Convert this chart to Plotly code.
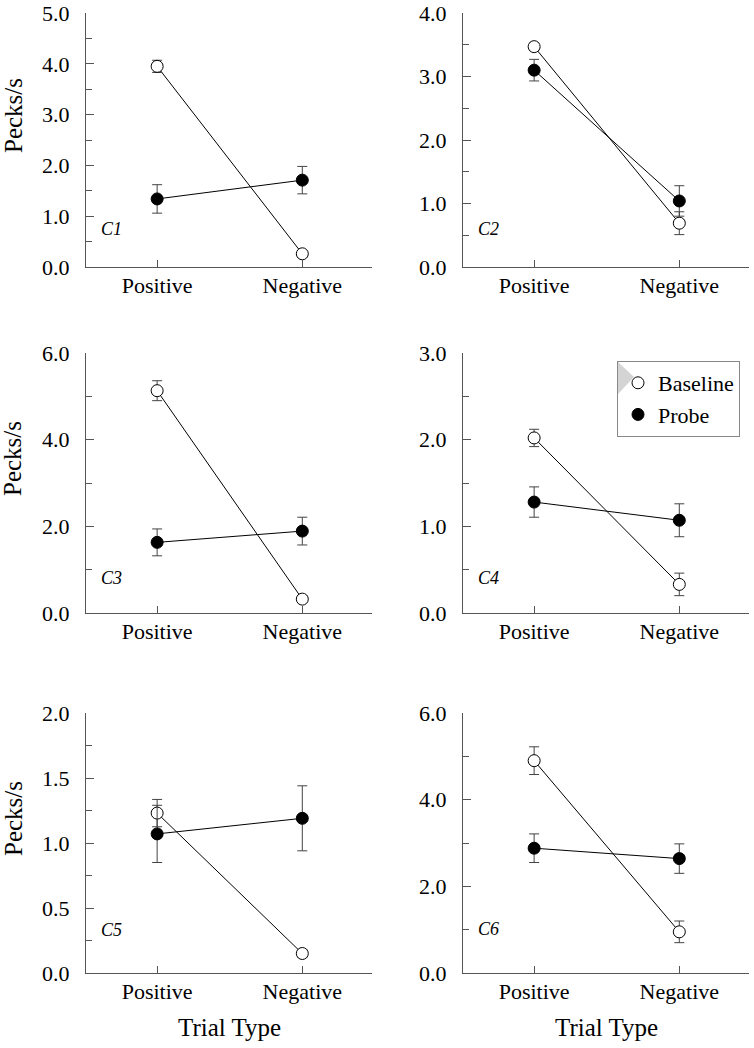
import plotly.graph_objects as go

# ---------------- data ----------------
categories = ["Positive", "Negative"]
panel_labels = ["C1", "C2", "C3", "C4", "C5", "C6"]

baseline_c1 = [3.95, 0.26]
baseline_err_c1 = [0.12, 0.06]
probe_c1 = [1.34, 1.71]
probe_err_c1 = [0.28, 0.27]

baseline_c2 = [3.47, 0.69]
baseline_err_c2 = [0.06, 0.18]
probe_c2 = [3.10, 1.04]
probe_err_c2 = [0.17, 0.24]

baseline_c3 = [5.13, 0.32]
baseline_err_c3 = [0.23, 0.08]
probe_c3 = [1.63, 1.89]
probe_err_c3 = [0.31, 0.32]

baseline_c4 = [2.02, 0.33]
baseline_err_c4 = [0.10, 0.13]
probe_c4 = [1.28, 1.07]
probe_err_c4 = [0.175, 0.19]

baseline_c5 = [1.23, 0.15]
baseline_err_c5 = [0.105, 0.03]
probe_c5 = [1.07, 1.19]
probe_err_c5 = [0.22, 0.25]

baseline_c6 = [4.90, 0.95]
baseline_err_c6 = [0.32, 0.25]
probe_c6 = [2.88, 2.64]
probe_err_c6 = [0.33, 0.34]

y_max = [5.0, 4.0, 6.0, 3.0, 2.0, 6.0]
y_dtick = [1.0, 1.0, 2.0, 1.0, 0.5, 2.0]

baselines = [baseline_c1, baseline_c2, baseline_c3, baseline_c4, baseline_c5, baseline_c6]
baseline_errs = [baseline_err_c1, baseline_err_c2, baseline_err_c3, baseline_err_c4, baseline_err_c5, baseline_err_c6]
probes = [probe_c1, probe_c2, probe_c3, probe_c4, probe_c5, probe_c6]
probe_errs = [probe_err_c1, probe_err_c2, probe_err_c3, probe_err_c4, probe_err_c5, probe_err_c6]

# ---------------- layout geometry ----------------
W, H = 754, 1048
FONT = "Liberation Serif, Times New Roman, serif"
AX = "#555555"
col_px = [(86, 372), (463, 749)]
row_px = [(13, 267), (353, 613), (713, 973)]
label_y = [0.15, 0.15, 0.135, 0.135, 0.165, 0.17]

x_pos = list(range(len(categories)))

def px(x, y):
    return f"{x / W:.5f},{1 - y / H:.5f}"

fig = go.Figure()
layout = dict(
    template="none",
    width=W, height=H,
    margin=dict(l=0, r=0, t=0, b=0, pad=0, autoexpand=False),
    paper_bgcolor="white", plot_bgcolor="white",
    font=dict(family=FONT, size=22, color="black"),
    showlegend=True,
    legend=dict(x=617 / W, y=1 - 361 / H, xanchor="left", yanchor="top",
                bgcolor="rgba(0,0,0,0)", bordercolor="#888888", borderwidth=1,
                font=dict(family=FONT, size=22, color="black"),
                tracegroupgap=0),
    shapes=[dict(type="path", xref="paper", yref="paper", layer="below",
                 path=f"M {px(618, 362)} L {px(634, 377)} L {px(618, 394)} Z",
                 fillcolor="#d4d4d4", line=dict(width=0))],
)
annotations = []

for i in range(6):
    r, c = divmod(i, 2)
    n = i + 1
    xa = "x" if n == 1 else f"x{n}"
    ya = "y" if n == 1 else f"y{n}"
    xl, xr = col_px[c]
    yt, yb = row_px[r]

    for vals, errs, name, fill in [
        (baselines[i], baseline_errs[i], "Baseline", "white"),
        (probes[i], probe_errs[i], "Probe", "black"),
    ]:
        fig.add_trace(go.Scatter(
            x=x_pos, y=vals, mode="lines", xaxis=xa, yaxis=ya,
            line=dict(color="black", width=1), showlegend=False, hoverinfo="skip"))
        fig.add_trace(go.Scatter(
            x=x_pos, y=vals, mode="markers", xaxis=xa, yaxis=ya, name=name,
            marker=dict(size=12, color=fill, line=dict(color="black", width=1)),
            error_y=dict(type="data", array=errs, visible=True,
                         color="#444444", thickness=1, width=5),
            showlegend=(i == 0), legendgroup=name))

    layout[f"xaxis{n if n > 1 else ''}"] = dict(
        domain=[xl / W, xr / W], anchor=ya, automargin=False,
        range=[-0.49, 1.48], tickmode="array", tickvals=x_pos, ticktext=categories,
        ticks="inside", ticklen=7, tickcolor=AX, tickwidth=1,
        showline=True, linecolor=AX, linewidth=1,
        showgrid=False, zeroline=False, ticklabelstandoff=-1,
        ticklabeloverflow="allow",
        tickfont=dict(family=FONT, size=22, color="black"))
    layout[f"yaxis{n if n > 1 else ''}"] = dict(
        domain=[1 - yb / H, 1 - yt / H], anchor=xa, automargin=False,
        range=[0, y_max[i]], tick0=0, dtick=y_dtick[i], tickformat=".1f",
        ticks="inside", ticklen=8, tickcolor=AX, tickwidth=1,
        minor=dict(dtick=y_dtick[i] / 2, ticks="inside", ticklen=6, tickcolor=AX,
                   tickwidth=1, showgrid=False),
        showline=True, linecolor=AX, linewidth=1,
        showgrid=False, zeroline=False, ticklabelstandoff=11,
        ticklabeloverflow="allow",
        tickfont=dict(family=FONT, size=22, color="black"))

    annotations.append(dict(
        text=f"<i>{panel_labels[i]}</i>", xref=f"{xa} domain", yref=f"{ya} domain",
        x=0.09, y=label_y[i], showarrow=False, xanchor="center", yanchor="middle",
        font=dict(family=FONT, size=18, color="black")))

    if c == 0:
        annotations.append(dict(
            text="Pecks/s", xref="paper", yref="paper",
            x=13 / W, y=1 - ((yt + yb) / 2 - 24) / H, showarrow=False,
            xanchor="center", yanchor="middle", textangle=-90,
            font=dict(family=FONT, size=25, color="black")))
    if r == 2:
        annotations.append(dict(
            text="Trial Type", xref="paper", yref="paper",
            x=(xl + xr) / 2 / W, y=1 - 1027 / H, showarrow=False,
            xanchor="center", yanchor="middle",
            font=dict(family=FONT, size=25, color="black")))

layout["annotations"] = annotations
fig.update_layout(**layout)
fig.write_html("out.html",
               config={"displayModeBar": False, "staticPlot": True},
               post_script="document.body.style.margin='0';document.body.style.overflow='hidden';")
